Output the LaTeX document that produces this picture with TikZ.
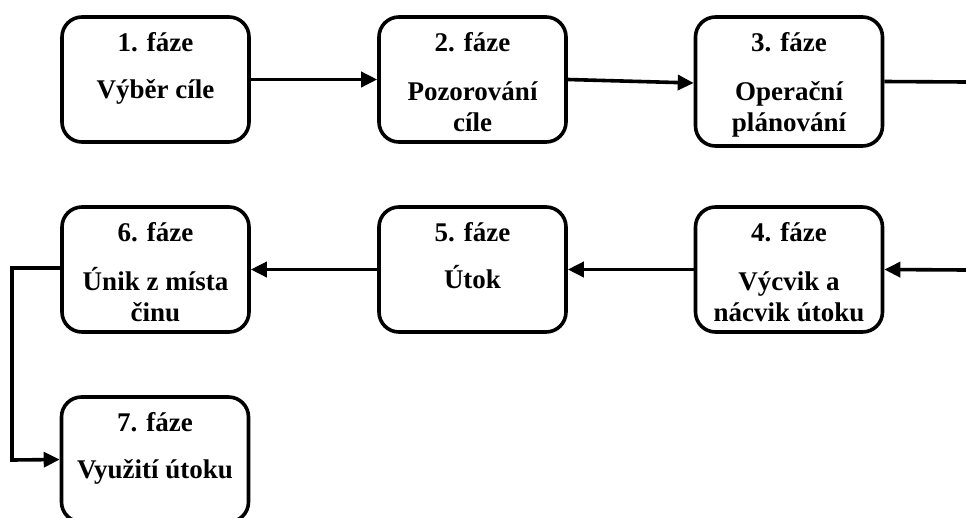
\documentclass[tikz,border=0pt]{standalone}
\usepackage{fontspec}
\setmainfont{Liberation Serif}
\usetikzlibrary{arrows.meta}

\begin{document}
\begin{tikzpicture}[x=1pt,y=-1pt,
  phase/.style={draw, line width=3.6pt, rounded corners=20pt,
    minimum width=187pt, minimum height=125pt, inner sep=0pt},
  txt/.style={anchor=base, inner sep=0pt,
    font=\fontsize{27}{31}\selectfont\bfseries},
  flow/.style={line width=3.6pt, -{Triangle[length=16pt,width=15pt]}},
  plain/.style={line width=3.6pt}
]
\useasboundingbox (0,0) rectangle (966,517);

% phase boxes
\node[phase] (b1) at (155.5,79.5) {};
\node[phase] (b2) at (472.5,79.5) {};
\node[phase, minimum height=129pt] (b3) at (789,81.5) {};
\node[phase] (b4) at (789,269.5) {};
\node[phase] (b5) at (472.5,269.5) {};
\node[phase] (b6) at (155.5,269.5) {};
\node[phase] (b7) at (155,459.5) {};

% titles and descriptions (shifts measured downwards from the top edge)
\node[txt] (t1) at ([yshift=-36pt]b1.north) {1. fáze};
\node[txt] (d1) at ([yshift=-83pt]b1.north) {Výběr cíle};

\node[txt] (t2) at ([yshift=-36pt]b2.north) {2. fáze};
\node[txt] (d2) at ([yshift=-85pt]b2.north) {Pozorování};
\node[txt] (e2) at ([yshift=-116pt]b2.north) {cíle};

\node[txt] (t3) at ([yshift=-36pt]b3.north) {3. fáze};
\node[txt] (d3) at ([yshift=-85pt]b3.north) {Operační};
\node[txt] (e3) at ([yshift=-116pt]b3.north) {plánování};

\node[txt] (t4) at ([yshift=-36pt]b4.north) {4. fáze};
\node[txt] (d4) at ([yshift=-85pt]b4.north) {Výcvik a};
\node[txt] (e4) at ([yshift=-116pt]b4.north) {nácvik útoku};

\node[txt] (t5) at ([yshift=-36pt]b5.north) {5. fáze};
\node[txt] (d5) at ([yshift=-83pt]b5.north) {Útok};

\node[txt] (t6) at ([yshift=-36pt]b6.north) {6. fáze};
\node[txt] (d6) at ([yshift=-85pt]b6.north) {Únik z místa};
\node[txt] (e6) at ([yshift=-116pt]b6.north) {činu};

\node[txt] (t7) at ([yshift=-36pt]b7.north) {7. fáze};
\node[txt] (d7) at ([yshift=-83pt]b7.north) {Využití útoku};

% free ends at the right margin and the left bend
\coordinate (out3) at (966,82);
\coordinate (in4) at (966,270);
\coordinate (bendA) at (12,268);
\coordinate (bendB) at (12,460);

% connectors
\draw[flow] (b1.east) -- (b2.west);
\draw[flow] (b2.east) -- ([yshift=-1.5pt]b3.west);
\draw[plain] (b3.east) -- (out3);
\draw[flow] (in4) -- (b4.east);
\draw[flow] (b4.west) -- (b5.east);
\draw[flow] (b5.west) -- (b6.east);
\draw[flow] ([yshift=1.5pt]b6.west) -- (bendA) -- (bendB) -- (b7.west);
\end{tikzpicture}
\end{document}
